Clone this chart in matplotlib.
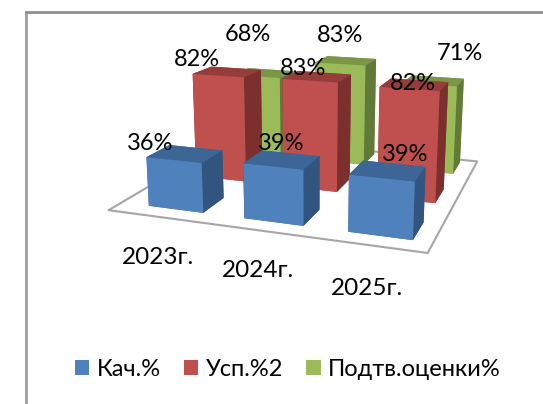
import matplotlib
matplotlib.use("Agg")
import matplotlib.pyplot as plt
from matplotlib.patches import Patch
from mpl_toolkits.mplot3d.art3d import Poly3DCollection

plt.rcParams['font.family'] = ['Lato', 'DejaVu Sans']

# values
years = ['2023г.', '2024г.', '2025г.']
series = ['Кач.%', 'Усп.%2', 'Подтв.оценки%']
kach = [36, 39, 39]
usp = [82, 83, 82]
podtv = [68, 83, 71]

# front, top, side colours of the bars
colors = [('#4F81BD', '#3C6696', '#31557F'),
          ('#C0504D', '#963D3B', '#7C302E'),
          ('#9BBB59', '#7B9646', '#627A37')]

# nudges for the value labels (x units, z units), one row per series
label_dx = [[-0.14, 0.18, 0.30], [-0.13, 0.03, 0.13], [0.0, 0.1, 0.41]]
label_dz = [[-2, 4, 5], [-1, -3, -8], [23, 11, 14]]
year_dx = [0.37, 0.29, 0.21]
year_dz = [-9, -7, -8]

fig = plt.figure(figsize=(5.43, 4.04), dpi=100)

# frame of the chart area
fig.add_artist(plt.Line2D([0.047, 0.047], [0, 0.97], color='#A0A0A0', lw=2))
fig.add_artist(plt.Line2D([0.047, 1], [0.97, 0.97], color='#909090', lw=2))

ax = fig.add_axes([-0.145, -0.016, 1.4, 1.4], projection='3d')
ax.set_proj_type('persp', focal_length=0.27)
ax.view_init(elev=14, azim=-70.5)
ax.set_axis_off()
ax.computed_zorder = False
ax.patch.set_alpha(0)
x0, x1 = -0.6, 2.46
y0, y1 = -0.45, 2.35
ax.set_xlim(x0, x1)
ax.set_ylim(y0, y1)
ax.set_zlim(0, 100)
ax.set_xticks([])
ax.set_yticks([])
ax.set_zticks([])
ax.set_box_aspect((0.777, 0.705, 0.344), zoom=0.73)

floor = Poly3DCollection([[(x0, y0, 0), (x1, y0, 0), (x1, y1, 0), (x0, y1, 0)]],
                         facecolor='white', edgecolor='#A6A6A6', linewidth=1.5, zorder=1)
ax.add_collection3d(floor)

width = 0.58
depth = 0.45
data = [kach, usp, podtv]
for s in [2, 1, 0]:
    front, top, side = colors[s]
    for i in range(3):
        ax.bar3d(i - width / 2, s - depth / 2, 0, width, depth, data[s][i],
                 color=[top, top, front, top, side, side], shade=False, zorder=2 + (2 - s))
        ax.text(i - 0.1 + label_dx[s][i], s - depth / 2, data[s][i] + 12 + label_dz[s][i],
                str(data[s][i]) + '%', fontsize=17, ha='center', va='center', zorder=10)

for i in range(3):
    ax.text(i - 0.1 + year_dx[i], -1.05, year_dz[i], years[i], fontsize=17.5,
            ha='center', va='center', zorder=10)

handles = [Patch(facecolor=c[0], label=n) for c, n in zip(colors, series)]
fig.legend(handles=handles, loc='center', bbox_to_anchor=(0.53, 0.085), ncol=3, frameon=False,
           fontsize=17, handlelength=0.6, handleheight=0.6, handletextpad=0.3, columnspacing=1.0)

fig.savefig('out.png', dpi=100)
